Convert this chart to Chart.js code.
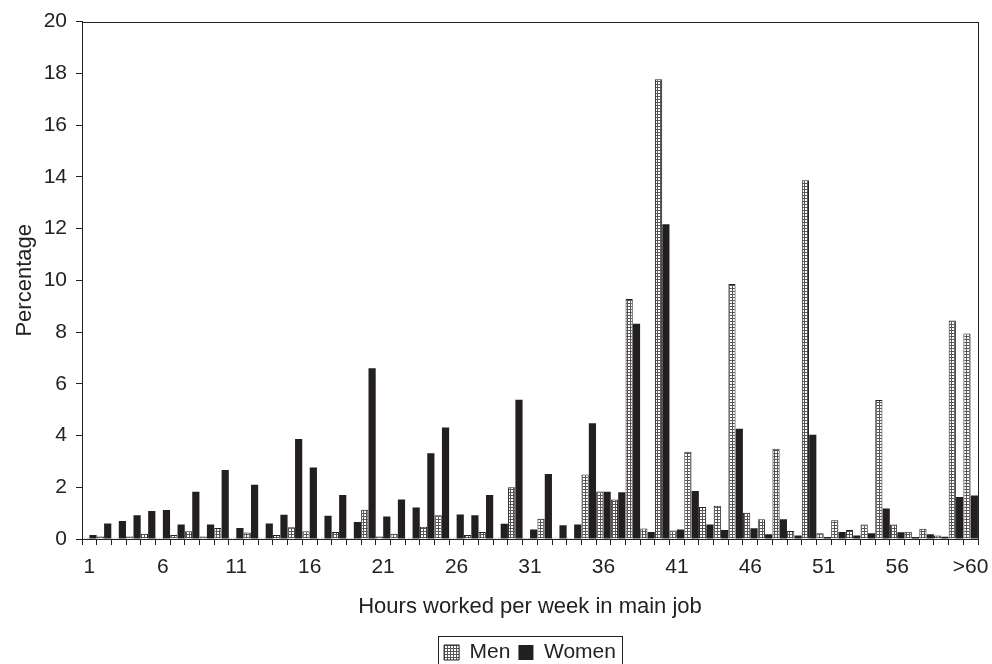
<!DOCTYPE html>
<html lang="en">
<head>
    <meta charset="UTF-8">
    <title>Hours worked per week in main job</title>
    <script src="https://cdn.jsdelivr.net/npm/chart.js"></script>
    <style>
        body { margin: 0; background: #fff; }
        #grafico { display: block; }
    </style>
</head>
<body>
    <canvas id="grafico" width="992" height="664"></canvas>

    <script>
        // categorias: 1..60 horas e ">60"
        const horas = [];
        for (let h = 1; h <= 60; h++) horas.push(String(h));
        horas.push('>60');

        const homens = [
            0.05, 0.10, 0.05, 0.10, 0.20, 0.05, 0.15, 0.30, 0.10, 0.43,
            0.05, 0.25, 0.05, 0.15, 0.45, 0.30, 0.05, 0.27, 0.04, 1.13,
            0.10, 0.20, 0.05, 0.47, 0.92, 0.05, 0.15, 0.27, 0.05, 2.00,
            0.04, 0.78, 0.05, 0.04, 2.49, 1.84, 1.53, 9.28, 0.41, 17.77,
            0.33, 3.37, 1.24, 1.29, 9.86, 1.01, 0.76, 3.49, 0.31, 13.87,
            0.22, 0.72, 0.35, 0.56, 5.37, 0.56, 0.28, 0.40, 0.14, 8.45,
            7.94
        ];
        const mulheres = [
            0.15, 0.60, 0.70, 0.92, 1.08, 1.12, 0.56, 1.83, 0.56, 2.67,
            0.43, 2.10, 0.60, 0.94, 3.87, 2.76, 0.90, 1.70, 0.66, 6.60,
            0.87, 1.53, 1.22, 3.31, 4.31, 0.95, 0.92, 1.70, 0.59, 5.38,
            0.37, 2.51, 0.53, 0.56, 4.47, 1.83, 1.81, 8.32, 0.27, 12.17,
            0.37, 1.86, 0.56, 0.35, 4.26, 0.42, 0.18, 0.76, 0.14, 4.03,
            0.08, 0.27, 0.14, 0.22, 1.18, 0.26, 0.08, 0.18, 0.09, 1.62,
            1.68
        ];
        const ticksY = [0, 2, 4, 6, 8, 10, 12, 14, 16, 18, 20];

        const corTexto = '#222';
        const fonte = 'Liberation Sans, Arial, sans-serif';

        // textura quadriculada das barras dos homens
        function criarPadrao() {
            const c = document.createElement('canvas');
            c.width = 3;
            c.height = 3;
            const g = c.getContext('2d');
            g.fillStyle = '#ffffff';
            g.fillRect(0, 0, 3, 3);
            g.fillStyle = '#555555';
            g.fillRect(0, 0, 3, 1);
            g.fillRect(0, 0, 1, 3);
            return g.createPattern(c, 'repeat');
        }
        const padrao = criarPadrao();

        // moldura da área do gráfico e caixa da legenda
        const moldura = {
            id: 'moldura',
            afterDraw(chart) {
                const ctx = chart.ctx;
                const a = chart.chartArea;
                ctx.save();
                ctx.strokeStyle = corTexto;
                ctx.lineWidth = 1;
                ctx.strokeRect(Math.round(a.left) + 0.5, Math.round(a.top) + 0.5,
                    Math.round(a.right - a.left), Math.round(a.bottom - a.top));

                const caixas = chart.legend.legendHitBoxes;
                if (caixas && caixas.length) {
                    const esq = Math.min(...caixas.map(b => b.left)) - 6;
                    const dir = Math.max(...caixas.map(b => b.left + b.width)) + 6;
                    const meio = caixas[0].top + caixas[0].height / 2;
                    ctx.strokeRect(Math.round(esq) + 0.5, Math.round(meio - 17) + 0.5,
                        Math.round(dir - esq), 28);
                }
                ctx.restore();
            }
        };

        const ctx = document.getElementById('grafico').getContext('2d');
        new Chart(ctx, {
            type: 'bar',
            data: {
                labels: horas,
                datasets: [{
                    label: 'Men',
                    data: homens,
                    backgroundColor: padrao,
                    borderColor: '#222',
                    borderWidth: 1,
                    categoryPercentage: 1,
                    barPercentage: 0.98
                }, {
                    label: 'Women',
                    data: mulheres,
                    backgroundColor: '#231f20',
                    borderWidth: 0,
                    categoryPercentage: 1,
                    barPercentage: 0.98
                }]
            },
            options: {
                responsive: false,
                animation: false,
                layout: {
                    padding: { top: 20, right: 14, left: 0, bottom: -9 }
                },
                plugins: {
                    tooltip: { enabled: false },
                    legend: {
                        position: 'bottom',
                        fullSize: false,
                        labels: {
                            color: corTexto,
                            font: { family: fonte, size: 21 },
                            boxWidth: 15,
                            boxHeight: 15,
                            padding: 8
                        }
                    }
                },
                scales: {
                    x: {
                        grid: {
                            display: true,
                            offset: true,
                            drawOnChartArea: false,
                            tickLength: 6,
                            color: corTexto
                        },
                        border: { color: corTexto, width: 1 },
                        ticks: {
                            autoSkip: false,
                            maxRotation: 0,
                            padding: 10,
                            color: corTexto,
                            font: { family: fonte, size: 21 },
                            callback: function (valor, indice) {
                                return indice % 5 === 0 ? horas[indice] : '';
                            }
                        },
                        title: {
                            display: true,
                            text: 'Hours worked per week in main job',
                            color: corTexto,
                            font: { family: fonte, size: 22 },
                            padding: { top: 4, bottom: 14 }
                        },
                        afterFit: function (escala) {
                            escala.height = 95;
                            escala.paddingLeft = 0;
                            escala.paddingRight = 0;
                        }
                    },
                    y: {
                        min: ticksY[0],
                        max: ticksY[ticksY.length - 1],
                        grid: {
                            display: true,
                            drawOnChartArea: false,
                            tickLength: 6,
                            color: corTexto
                        },
                        border: { color: corTexto, width: 1 },
                        afterBuildTicks: function (escala) {
                            escala.ticks = ticksY.map(v => ({ value: v }));
                        },
                        ticks: {
                            padding: 9,
                            color: corTexto,
                            font: { family: fonte, size: 21 }
                        },
                        title: {
                            display: true,
                            text: 'Percentage',
                            color: corTexto,
                            font: { family: fonte, size: 22 },
                            padding: { top: 12, bottom: 4 }
                        },
                        afterFit: function (escala) { escala.width = 82; }
                    }
                }
            },
            plugins: [moldura]
        });
    </script>
</body>
</html>
